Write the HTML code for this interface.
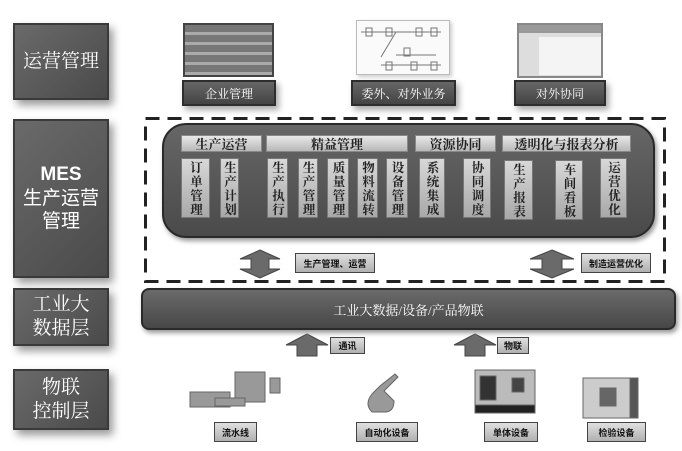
<!DOCTYPE html>
<html><head><meta charset="utf-8"><style>
*{margin:0;padding:0;box-sizing:border-box}
body{width:682px;height:451px;background:#fff;position:relative;overflow:hidden;font-family:"Liberation Serif","Noto Serif CJK SC",serif}
.a{position:absolute}
.lb{position:absolute;background:linear-gradient(135deg,#6a6a6a,#4a4a4a);border:2px solid #3a3a3a;box-shadow:4px 5px 8px #999;color:#fff;display:flex;align-items:center;justify-content:center;text-align:center;font-size:19px;line-height:1.25}
.tl{position:absolute;background:linear-gradient(#666,#444);border:2px solid #2e2e2e;box-shadow:3px 4px 6px #aaa;color:#fff;font-size:12px;display:flex;align-items:center;justify-content:center}
.hd{position:absolute;top:135px;height:17px;background:linear-gradient(#e8e8e8,#b8b8b8);border:1px solid #888;color:#222;font-size:13px;font-weight:bold;display:flex;align-items:center;justify-content:center}
.col{position:absolute;top:158px;height:60px;background:linear-gradient(#d8d8d8,#a8a8a8);border:1px solid #777;color:#222;font-size:12.5px;font-weight:bold;line-height:14px;text-align:center;letter-spacing:1.5px;padding-top:2px;writing-mode:vertical-rl;display:flex;align-items:center}
.sl{position:absolute;background:linear-gradient(#e0e0e0,#b0b0b0);border:1.5px solid #444;color:#111;font-size:9px;font-weight:bold;font-family:"Liberation Sans","Noto Sans CJK SC",sans-serif;display:flex;align-items:center;justify-content:center}
</style></head><body>
<div class="lb" style="left:13px;top:23px;width:96px;height:77px">运营管理</div>
<div class="lb" style="left:13px;top:119px;width:96px;height:159px;font-family:'Liberation Sans','Noto Sans CJK SC',sans-serif"><div><b>MES</b><br>生产运营<br>管理</div></div>
<div class="lb" style="left:13px;top:288px;width:96px;height:58px">工业大<br>数据层</div>
<div class="lb" style="left:13px;top:369px;width:96px;height:61px">物联<br>控制层</div>

<div class="a" style="left:183px;top:23px;width:91px;height:54px;background:repeating-linear-gradient(#777 0 7px,#aaa 7px 10px);border:2px solid #444"></div>
<div class="a" style="left:356px;top:20px;width:94px;height:55px;background:#fafafa;border:1px solid #bbb;box-shadow:2px 2px 4px #ccc"></div>
<svg class="a" style="left:356px;top:20px" width="94" height="55"><g stroke="#777" fill="none" stroke-width="1"><path d="M5 12h80M40 12l-15 25M40 35h40M25 45h60"/><rect x="10" y="8" width="6" height="8"/><rect x="30" y="8" width="6" height="8"/><rect x="60" y="8" width="6" height="8"/><rect x="75" y="8" width="6" height="8"/><rect x="48" y="28" width="6" height="8"/><rect x="30" y="42" width="6" height="8"/><rect x="55" y="42" width="6" height="8"/><rect x="75" y="42" width="6" height="8"/></g></svg>
<div class="a" style="left:517px;top:23px;width:86px;height:55px;background:#ddd;border:2px solid #888"><div style="position:absolute;left:20px;top:12px;width:62px;height:38px;background:#f4f4f4"></div><div style="position:absolute;left:0;top:0;right:0;height:8px;background:#999"></div></div>
<div class="tl" style="left:182px;top:80px;width:94px;height:26px">企业管理</div>
<div class="tl" style="left:351px;top:80px;width:105px;height:26px">委外、对外业务</div>
<div class="tl" style="left:514px;top:80px;width:92px;height:26px">对外协同</div>

<svg class="a" style="left:0;top:0" width="682" height="451"><rect x="145.5" y="118.5" width="519" height="163" fill="none" stroke="#222" stroke-width="3" stroke-dasharray="14 8"/></svg>
<div class="a" style="left:162px;top:123px;width:493px;height:115px;border-radius:24px;background:linear-gradient(#666,#4a4a4a);border:2px solid #2a2a2a;box-shadow:2px 3px 5px #999"></div>
<div class="hd" style="left:181px;width:81px">生产运营</div>
<div class="hd" style="left:266px;width:142px">精益管理</div>
<div class="hd" style="left:415px;width:81px">资源协同</div>
<div class="hd" style="left:502px;width:129px">透明化与报表分析</div>
<div class="col" style="left:181px;width:29px">订单管理</div>
<div class="col" style="left:220px;width:19px">生产计划</div>
<div class="col" style="left:267px;width:21px">生产执行</div>
<div class="col" style="left:298px;width:20px">生产管理</div>
<div class="col" style="left:327px;width:22px">质量管理</div>
<div class="col" style="left:357px;width:21px">物料流转</div>
<div class="col" style="left:386px;width:22px">设备管理</div>
<div class="col" style="left:419px;width:26px">系统集成</div>
<div class="col" style="left:463px;width:28px">协同调度</div>
<div class="col" style="left:504px;width:29px;top:160px">生产报表</div>
<div class="col" style="left:555px;width:28px;top:160px">车间看板</div>
<div class="col" style="left:600px;width:27px">运营优化</div>

<svg class="a" style="left:0;top:0" width="682" height="451"><g fill="#6a6a6a" stroke="#444">
<path d="M260 250l20 9h-11v10h11l-20 9-20-9h11v-10h-11z"/>
<path d="M552 250l22 9h-12v10h12l-22 9-22-9h12v-10h-12z"/>
<path d="M307 334l21 11h-11v11h-20v-11h-11z"/>
<path d="M475 334l21 11h-11v11h-20v-11h-11z"/>
</g>
<g fill="#999" stroke="#666"><rect x="190" y="392" width="40" height="15"/><rect x="235" y="372" width="30" height="30"/><rect x="270" y="378" width="10" height="15"/><rect x="215" y="398" width="30" height="8"/>
<path d="M372 412q-8-8 0-18l8-8 15-12 3 3-14 14 10 10q0 10-8 11z"/>
<rect x="475" y="370" width="60" height="42" fill="#bbb"/><rect x="480" y="376" width="16" height="24" fill="#333"/><rect x="475" y="405" width="60" height="8" fill="#222"/><rect x="512" y="378" width="12" height="14" fill="#444"/>
<rect x="583" y="378" width="55" height="40" fill="#ccc"/><rect x="600" y="388" width="16" height="18" fill="#666"/><rect x="630" y="378" width="8" height="40" fill="#555"/></g></svg>
<div class="sl" style="left:295px;top:253px;width:80px;height:20px">生产管理、运营</div>
<div class="sl" style="left:581px;top:253px;width:70px;height:20px">制造运营优化</div>
<div class="a" style="left:141px;top:288px;width:535px;height:42px;border-radius:8px;background:linear-gradient(#6a6a6a,#474747);border:2px solid #2a2a2a;box-shadow:2px 3px 5px #999;color:#fff;font-size:13px;display:flex;align-items:center;justify-content:center">工业大数据/设备/产品物联</div>
<div class="sl" style="left:330px;top:337px;width:35px;height:17px">通讯</div>
<div class="sl" style="left:497px;top:337px;width:32px;height:17px">物联</div>
<div class="sl" style="left:214px;top:422px;width:43px;height:20px">流水线</div>
<div class="sl" style="left:356px;top:422px;width:62px;height:20px">自动化设备</div>
<div class="sl" style="left:484px;top:422px;width:54px;height:20px">单体设备</div>
<div class="sl" style="left:587px;top:422px;width:59px;height:20px">检验设备</div>
</body></html>
